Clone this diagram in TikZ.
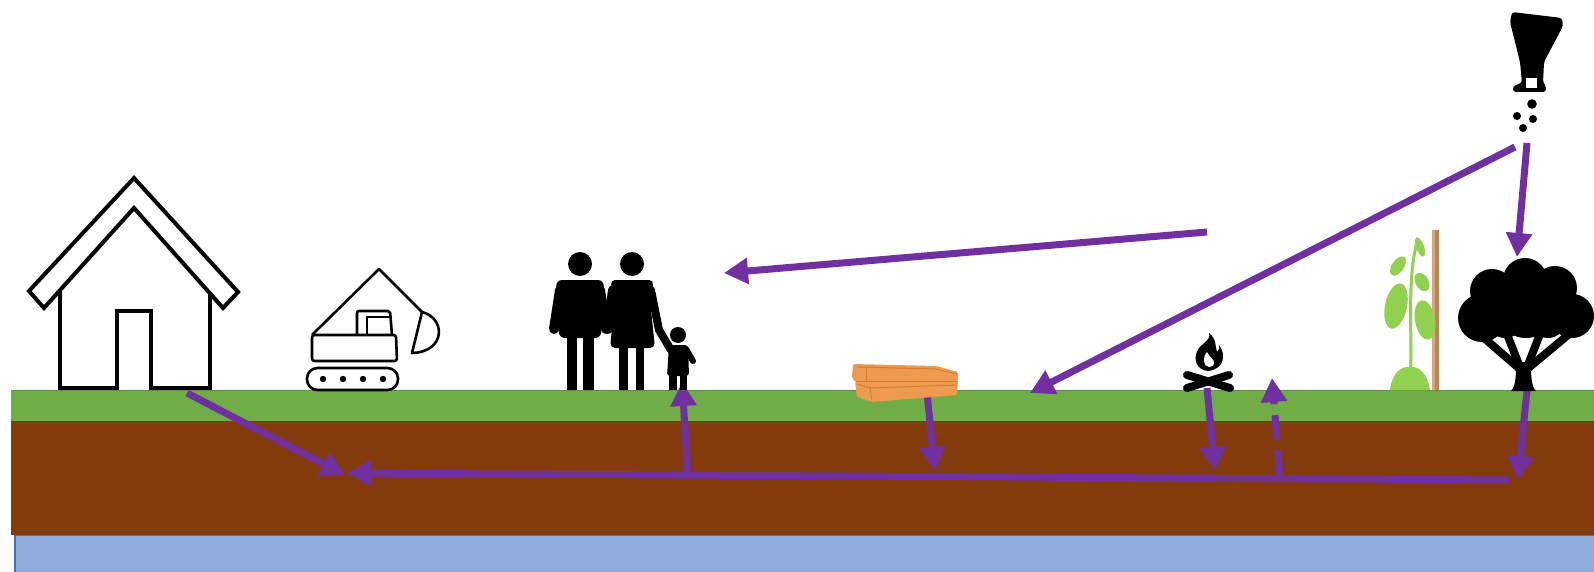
\documentclass[tikz,border=0pt]{standalone}
\usetikzlibrary{arrows.meta}
\definecolor{grass}{HTML}{70AD47}
\definecolor{grassedge}{HTML}{5E9438}
\definecolor{soil}{HTML}{843C0C}
\definecolor{water}{HTML}{8FAADC}
\definecolor{wateredge}{HTML}{4A6FB0}
\definecolor{flowc}{HTML}{7030A0}
\definecolor{leaf}{HTML}{92D050}
\definecolor{pole}{HTML}{BF8350}
\definecolor{wood}{HTML}{EE9A4E}
\definecolor{wooddark}{HTML}{D07E36}
\begin{document}
\begin{tikzpicture}[x=1pt,y=-1pt,
  flow/.style={draw=flowc, line width=7pt, -{Triangle[length=24pt,width=25pt]}},
  outline/.style={draw=black, line width=4pt, fill=white, line join=miter},
  thinline/.style={draw=black, line width=2.6pt, line join=round},
  ink/.style={fill=black}]
\useasboundingbox (0,0) rectangle (1594,572);

% ground layers
\fill[water] (15,535) rectangle (1600,580);
\draw[wateredge, line width=1.5pt] (15,580) -- (15,535) -- (1600,535);
\fill[soil] (11,421) rectangle (1600,535);
\fill[grass] (11,390) rectangle (1600,421);
\draw[grassedge, line width=1pt] (11,390) -- (1600,390);

% flow connectors
\coordinate (houseOut) at (187,393);
\coordinate (junction) at (345,475);
\coordinate (pipeEnd) at (1509,480);
\coordinate (pipeTip) at (347,473);
\coordinate (familyBase) at (688,475);
\coordinate (familyTip) at (682,382);
\coordinate (windTail) at (1207,232);
\coordinate (windTip) at (724,273);
\coordinate (seedA) at (1515,147);
\coordinate (seedATip) at (1030,393);
\coordinate (seedB) at (1527,143);
\coordinate (seedBTip) at (1517,257);
\coordinate (woodOut) at (927,393);
\coordinate (woodTip) at (935,471);
\coordinate (fireOut) at (1207,388);
\coordinate (fireTip) at (1215,471);
\coordinate (upTail) at (1280,477);
\coordinate (upTip) at (1272,378);
\coordinate (treeOut) at (1527,390);
\coordinate (treeTip) at (1518,480);

\draw[flow] (houseOut) -- (junction);
\draw[flow] (pipeEnd) -- (pipeTip);
\draw[flow] (familyBase) -- (familyTip);
\draw[flow] (windTail) -- (windTip);
\draw[flow] (seedA) -- (seedATip);
\draw[flow] (seedB) -- (seedBTip);
\draw[flow] (woodOut) -- (woodTip);
\draw[flow] (fireOut) -- (fireTip);
\draw[flow, dash pattern=on 27pt off 10pt on 25pt off 11pt] (upTail) -- (upTip);
\draw[flow] (treeOut) -- (treeTip);

% house
\draw[outline] (29,291) -- (134,178) -- (238,292) -- (223,308) -- (134,208) -- (44,308) -- cycle;
\draw[outline, fill=none] (60,291) -- (60,388) -- (117,388) -- (117,311) -- (151,311) -- (151,388) -- (210,388) -- (210,293);

% excavator
\draw[thinline] (312,335) -- (379,269) -- (422,312);
\draw[thinline] (422,312) .. controls (446,318) and (446,352) .. (412,353) -- cycle;
\draw[thinline, rounded corners=2.5pt] (312,335) -- (396,335) -- (397,361) -- (312,361) -- cycle;
\draw[thinline, rounded corners=2pt] (357,335) -- (357,311) -- (390,311) -- (392,335);
\draw[thinline] (367,335) -- (367,317) -- (391,317);
\draw[thinline, rounded corners=10.5pt] (307,368) rectangle (398,390);
\foreach \dx in {323,343,363,383} \fill (\dx,379) circle (3.2);

% family
% man
\fill (580,264) circle (12);
\fill[rounded corners=6pt] (556,280) -- (604,280) -- (601,338) -- (559,338) -- cycle;
\draw[line width=10pt, line cap=round] (560,290) -- (554,329);
\draw[line width=10pt, line cap=round] (600,290) -- (606,329);
\fill (567,334) rectangle (577,390);
\fill (583,334) rectangle (594,390);
% woman
\fill (632,264) circle (12);
\fill[rounded corners=5pt] (610,280) -- (654,280) -- (650,300) -- (655,348) -- (610,348) -- (615,300) -- cycle;
\draw[line width=10pt, line cap=round] (613,290) -- (608,329);
\draw[line width=8pt, line cap=round, line join=round] (651,290) -- (659,330) -- (671,350);
\fill (619,345) rectangle (628,390);
\fill (636,345) rectangle (644,390);
% child
\fill (678,335) circle (8);
\fill[rounded corners=3pt] (669,345) -- (688,345) -- (689,376) -- (667,376) -- cycle;
\draw[line width=6pt, line cap=round, line join=round] (686,349) -- (693,361);
\fill (669,372) rectangle (676.5,390);
\fill (680,372) rectangle (687,390);

% wood pile
\fill[wood, rounded corners=1.5pt] (855,381) -- (958,381) -- (957,395) -- (872,402) -- (857,397) -- cycle;
\fill[wood, rounded corners=1.5pt] (853,364) -- (936,366) -- (958,372) -- (958,381) -- (855,382) -- (852,378) -- cycle;
\draw[wooddark, line width=1pt] (857,367) -- (936,369) -- (957,374);
\draw[wooddark, line width=1pt] (856,381) -- (958,381);
\draw[wooddark, line width=1pt] (857,384) -- (870,388) -- (956,385);
\draw[wooddark, line width=1pt] (870,388) -- (872,401);
\draw[wooddark, line width=0.8pt] (866,366) -- (866,380);

% campfire
\draw[line width=8pt, line cap=round] (1187,375) -- (1230,388);
\draw[line width=8pt, line cap=round] (1229,375) -- (1187,388);
\fill (1208,371) .. controls (1196,370) and (1192,358) .. (1199,348)
  .. controls (1204,342) and (1211,340) .. (1209,333)
  .. controls (1217,339) and (1215,347) .. (1217,352)
  .. controls (1219,350) and (1220,348) .. (1219,345)
  .. controls (1226,354) and (1225,369) .. (1208,371) -- cycle;
\fill[white] (1209,367) .. controls (1203,366) and (1202,358) .. (1207,352)
  .. controls (1209,357) and (1214,359) .. (1214,362)
  .. controls (1214,366) and (1212,367) .. (1209,367) -- cycle;

% climbing plant and pole
\fill[pole] (1432,230) rectangle (1439,390);
\fill[pole!70!white] (1432,230) rectangle (1434.5,390);
\draw[leaf, line width=3pt] (1410,388) .. controls (1413,330) and (1406,280) .. (1418,238);
\fill[leaf] (1390,390) .. controls (1392,372) and (1402,366) .. (1410,367) .. controls (1420,366) and (1428,375) .. (1430,390) -- cycle;
\fill[leaf, rotate around={20:(1420,247)}] (1420,247) ellipse (4 and 10);
\fill[leaf, rotate around={-35:(1398,266)}] (1398,266) ellipse (6 and 11);
\fill[leaf, rotate around={30:(1422,282)}] (1422,282) ellipse (6.5 and 10);
\fill[leaf, rotate around={-12:(1396,306)}] (1396,306) ellipse (11 and 23);
\fill[leaf, rotate around={10:(1425,320)}] (1425,320) ellipse (10 and 20);

% tree
\draw[line width=8pt, line cap=round] (1521,370) -- (1484,338);
\draw[line width=8pt, line cap=round] (1521,370) -- (1507,334);
\draw[line width=8pt, line cap=round] (1526,370) -- (1540,334);
\draw[line width=8pt, line cap=round] (1526,370) -- (1568,335);
\fill (1511,391) .. controls (1516,386) and (1516,375) .. (1516,362) -- (1531,362)
  .. controls (1531,375) and (1531,386) .. (1536,391) -- cycle;
\fill (1525,280) circle (22);
\fill (1492,291) circle (22);
\fill (1555,288) circle (22);
\fill (1482,318) circle (24);
\fill (1572,316) circle (22);
\fill (1526,308) circle (30);
\fill (1505,320) circle (18);
\fill (1548,320) circle (18);

% seed dispenser
\fill[rounded corners=3pt] (1512,12) -- (1562,18) -- (1563,26) -- (1544,62) -- (1543,83)
  -- (1546,86) -- (1546,92) -- (1513,92) -- (1513,86) -- (1522,83) -- (1520,62) -- (1510,22) -- cycle;
\fill[white] (1526,78) rectangle (1537,88);
\fill (1532,104) circle (4.8);
\fill (1517,116) circle (4);
\fill (1533,119) circle (4);
\fill (1523,128) circle (4);
\end{tikzpicture}
\end{document}
